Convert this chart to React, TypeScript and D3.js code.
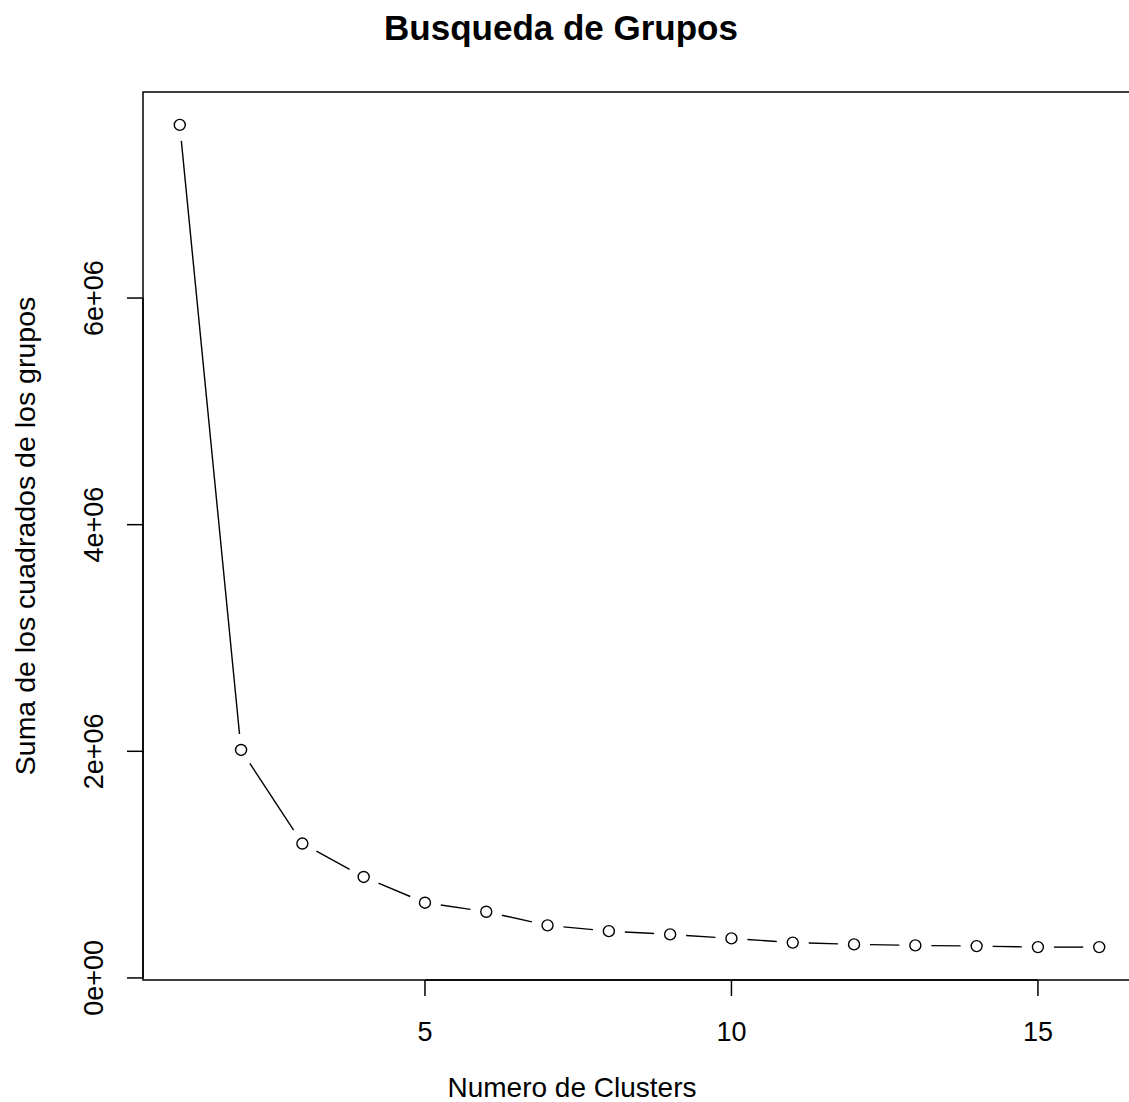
import React from "react";
import * as d3 from "d3";

const clusters = [1, 2, 3, 4, 5, 6, 7, 8, 9, 10, 11, 12, 13, 14, 15, 16];
const wss = [
  7528000, 2012000, 1186000, 891000, 664000, 584000, 464000, 413000, 384000,
  349000, 312000, 296000, 287000, 281000, 272000, 272000,
];
const xTicks = [5, 10, 15];
const yTicks = [0, 2000000, 4000000, 6000000];
const yTickLabels = ["0e+00", "2e+06", "4e+06", "6e+06"];

const title = "Busqueda de Grupos";
const xLabel = "Numero de Clusters";
const yLabel = "Suma de los cuadrados de los grupos";

const W = 1129;
const H = 1102;
const plot = { left: 143, right: 1136, top: 92, bottom: 980 };
const font = "'Liberation Sans', Arial, sans-serif";

export default function App() {
  const xMin = d3.min(clusters)!;
  const xMax = d3.max(clusters)!;
  const xPad = (xMax - xMin) * 0.04;
  const yMin = d3.min(wss)!;
  const yMax = d3.max(wss)!;
  const yPad = (yMax - yMin) * 0.04;

  const x = d3
    .scaleLinear()
    .domain([xMin - xPad, xMax + xPad])
    .range([plot.left, plot.right]);
  const y = d3
    .scaleLinear()
    .domain([yMin - yPad, yMax + yPad])
    .range([plot.bottom, plot.top]);

  const pts = clusters.map((c, i) => [x(c), y(wss[i])] as [number, number]);
  const gap = 16;
  const segs: [number, number, number, number][] = [];
  for (let i = 0; i < pts.length - 1; i++) {
    const [x0, y0] = pts[i];
    const [x1, y1] = pts[i + 1];
    const dx = x1 - x0;
    const dy = y1 - y0;
    const len = Math.hypot(dx, dy);
    if (len > 2 * gap) {
      const ux = dx / len;
      const uy = dy / len;
      segs.push([x0 + ux * gap, y0 + uy * gap, x1 - ux * gap, y1 - uy * gap]);
    }
  }

  const tickLen = 16;

  return (
    <svg
      width={W}
      height={H}
      style={{ position: "absolute", left: 0, top: 0, background: "#fff" }}
      fontFamily={font}
    >
      <rect x={0} y={0} width={W} height={H} fill="#fff" />
      <text
        x={561}
        y={40}
        textAnchor="middle"
        fontSize={35}
        fontWeight="bold"
        fill="#000"
      >
        {title}
      </text>
      {/* box */}
      <rect
        x={plot.left}
        y={plot.top}
        width={plot.right - plot.left}
        height={plot.bottom - plot.top}
        fill="none"
        stroke="#000"
        strokeWidth={1.5}
      />
      {/* x axis */}
      <line
        x1={x(xTicks[0])}
        x2={x(xTicks[xTicks.length - 1])}
        y1={plot.bottom}
        y2={plot.bottom}
        stroke="#000"
        strokeWidth={1.5}
      />
      {xTicks.map((t) => (
        <g key={"xt" + t}>
          <line
            x1={x(t)}
            x2={x(t)}
            y1={plot.bottom}
            y2={plot.bottom + tickLen}
            stroke="#000"
            strokeWidth={1.5}
          />
          <text
            x={x(t)}
            y={1041}
            textAnchor="middle"
            fontSize={27}
            fill="#000"
          >
            {t}
          </text>
        </g>
      ))}
      {/* y axis */}
      <line
        x1={plot.left}
        x2={plot.left}
        y1={y(yTicks[0])}
        y2={y(yTicks[yTicks.length - 1])}
        stroke="#000"
        strokeWidth={1.5}
      />
      {yTicks.map((t, i) => (
        <g key={"yt" + t}>
          <line
            x1={plot.left - tickLen}
            x2={plot.left}
            y1={y(t)}
            y2={y(t)}
            stroke="#000"
            strokeWidth={1.5}
          />
          <text
            transform={`translate(103,${y(t)}) rotate(-90)`}
            textAnchor="middle"
            fontSize={27}
            fill="#000"
          >
            {yTickLabels[i]}
          </text>
        </g>
      ))}
      <text x={572} y={1097} textAnchor="middle" fontSize={28} fill="#000">
        {xLabel}
      </text>
      <text
        transform={`translate(35,${(plot.top + plot.bottom) / 2}) rotate(-90)`}
        textAnchor="middle"
        fontSize={28.5}
        fill="#000"
      >
        {yLabel}
      </text>
      {/* line segments (type = "b") */}
      {segs.map((s, i) => (
        <line
          key={"s" + i}
          x1={s[0]}
          y1={s[1]}
          x2={s[2]}
          y2={s[3]}
          stroke="#000"
          strokeWidth={1.4}
        />
      ))}
      {pts.map((p, i) => (
        <circle
          key={"p" + i}
          cx={p[0]}
          cy={p[1]}
          r={5.5}
          fill="none"
          stroke="#000"
          strokeWidth={1.4}
        />
      ))}
    </svg>
  );
}
